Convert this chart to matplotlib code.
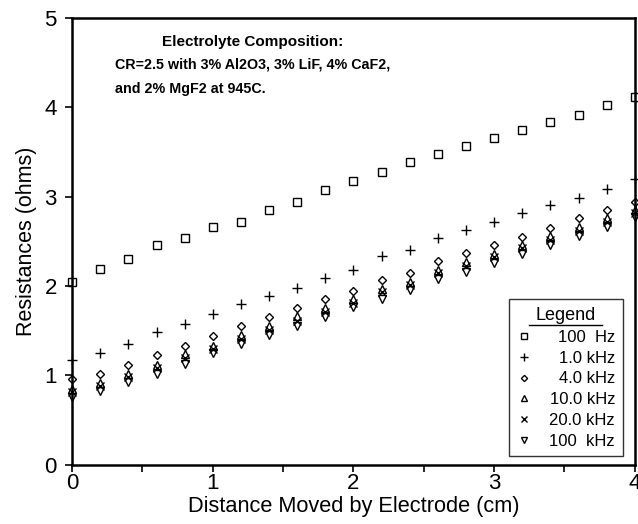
import matplotlib
matplotlib.use("Agg")
import matplotlib.pyplot as plt
from matplotlib.lines import Line2D

plt.rcParams['font.family'] = ['Liberation Sans', 'DejaVu Sans']

# Electrode position (cm)
distance = [0.0, 0.2, 0.4, 0.6, 0.8, 1.0, 1.2, 1.4, 1.6, 1.8, 2.0,
            2.2, 2.4, 2.6, 2.8, 3.0, 3.2, 3.4, 3.6, 3.8, 4.0]

# Resistance (ohms) at each measuring frequency
r_100hz = [2.05, 2.19, 2.30, 2.46, 2.54, 2.66, 2.72, 2.85, 2.94, 3.07, 3.18,
           3.27, 3.39, 3.48, 3.57, 3.66, 3.74, 3.83, 3.91, 4.02, 4.11]
r_1khz = [1.17, 1.25, 1.35, 1.48, 1.58, 1.69, 1.80, 1.89, 1.98, 2.09, 2.18,
          2.33, 2.40, 2.54, 2.63, 2.72, 2.82, 2.91, 2.98, 3.09, 3.20]
r_4khz = [0.96, 1.02, 1.12, 1.23, 1.33, 1.44, 1.55, 1.65, 1.75, 1.85, 1.94,
          2.07, 2.15, 2.28, 2.37, 2.46, 2.55, 2.65, 2.76, 2.85, 2.94]
r_10khz = [0.85, 0.92, 1.02, 1.12, 1.24, 1.33, 1.45, 1.55, 1.66, 1.75, 1.85,
           1.97, 2.05, 2.18, 2.27, 2.36, 2.46, 2.56, 2.66, 2.76, 2.85]
r_20khz = [0.81, 0.88, 0.98, 1.08, 1.19, 1.30, 1.41, 1.51, 1.61, 1.71, 1.81,
           1.93, 2.01, 2.14, 2.22, 2.32, 2.42, 2.52, 2.62, 2.72, 2.82]
r_100khz = [0.76, 0.83, 0.93, 1.02, 1.13, 1.25, 1.35, 1.45, 1.55, 1.65, 1.76,
            1.85, 1.96, 2.08, 2.16, 2.26, 2.36, 2.46, 2.56, 2.66, 2.77]

series_labels = ["100  Hz", "1.0 kHz", "4.0 kHz", "10.0 kHz", "20.0 kHz", "100  kHz"]
series_values = [r_100hz, r_1khz, r_4khz, r_10khz, r_20khz, r_100khz]
series_markers = ["s", "+", "D", "^", "x", "v"]
series_sizes = [6.0, 7.5, 4.5, 6.0, 6.0, 6.0]

x_ticks = [0, 1, 2, 3, 4]
y_ticks = [0, 1, 2, 3, 4, 5]

fig = plt.figure(figsize=(6.38, 5.24), dpi=100)
ax = fig.add_axes([0.113, 0.113, 0.882, 0.853])

handles = []
for vals, lab, mk, ms in zip(series_values, series_labels, series_markers, series_sizes):
    h, = ax.plot(distance, vals, linestyle="none", marker=mk, markersize=ms,
                 markerfacecolor="none", markeredgecolor="black",
                 markeredgewidth=1.0, color="black", label=lab, clip_on=False)
    handles.append(h)

ax.set_xlim(0, 4)
ax.set_ylim(0, 5)
ax.set_xticks(x_ticks)
ax.set_xticks([0.5, 1.5, 2.5, 3.5], minor=True)
ax.set_yticks(y_ticks)
ax.tick_params(axis="y", which="major", direction="out", length=5, width=1.2,
               labelsize=16, pad=6)
ax.tick_params(axis="x", which="major", direction="out", length=5, width=1.2,
               labelsize=16, pad=1)
ax.tick_params(axis="x", which="minor", direction="out", length=5, width=1.2)

for side in ["left", "bottom", "top", "right"]:
    ax.spines[side].set_linewidth(1.8)

ax.set_xlabel("Distance Moved by Electrode (cm)", fontsize=15.7, labelpad=1)
ax.set_ylabel("Resistances (ohms)", fontsize=15.5, labelpad=5)

ax.text(0.32, 0.946, "Electrolyte Composition:", transform=ax.transAxes,
        ha="center", va="center", fontsize=11, fontweight="bold")
ax.text(0.077, 0.895, "CR=2.5 with 3% Al2O3, 3% LiF, 4% CaF2,", transform=ax.transAxes,
        ha="left", va="center", fontsize=10.3, fontweight="bold")
ax.text(0.077, 0.841, "and 2% MgF2 at 945C.", transform=ax.transAxes,
        ha="left", va="center", fontsize=10.3, fontweight="bold")

leg = ax.legend(handles=handles, labels=series_labels, title="Legend",
                loc="lower right", bbox_to_anchor=(0.993, 0.0),
                fontsize=12, title_fontsize=13, frameon=True, fancybox=False,
                edgecolor="black", borderpad=0.45, labelspacing=0.35,
                handletextpad=1.0, handlelength=1.0, markerscale=0.7)
leg.get_frame().set_linewidth(1.0)

# right-align the legend labels while keeping the markers in one column
fig.canvas.draw()
renderer = fig.canvas.get_renderer()
texts = leg.get_texts()
widths = [t.get_window_extent(renderer).width for t in texts]
wmax = max(widths)
column = leg._legend_handle_box.get_children()[0]
pt_per_px = 72.0 / fig.dpi
for item, w in zip(column.get_children(), widths):
    item.sep = item.sep + (wmax - w) * pt_per_px
fig.canvas.draw()

# underline the legend title
tb = leg.get_title().get_window_extent(renderer)
inv = fig.transFigure.inverted()
(x0, y0), (x1, _) = inv.transform([(tb.x0 - 6, tb.y0 - 1), (tb.x1 + 6, tb.y0 - 1)])
fig.add_artist(Line2D([x0, x1], [y0, y0], transform=fig.transFigure,
                      color="black", linewidth=1.0))

fig.savefig("out.png", dpi=100)
